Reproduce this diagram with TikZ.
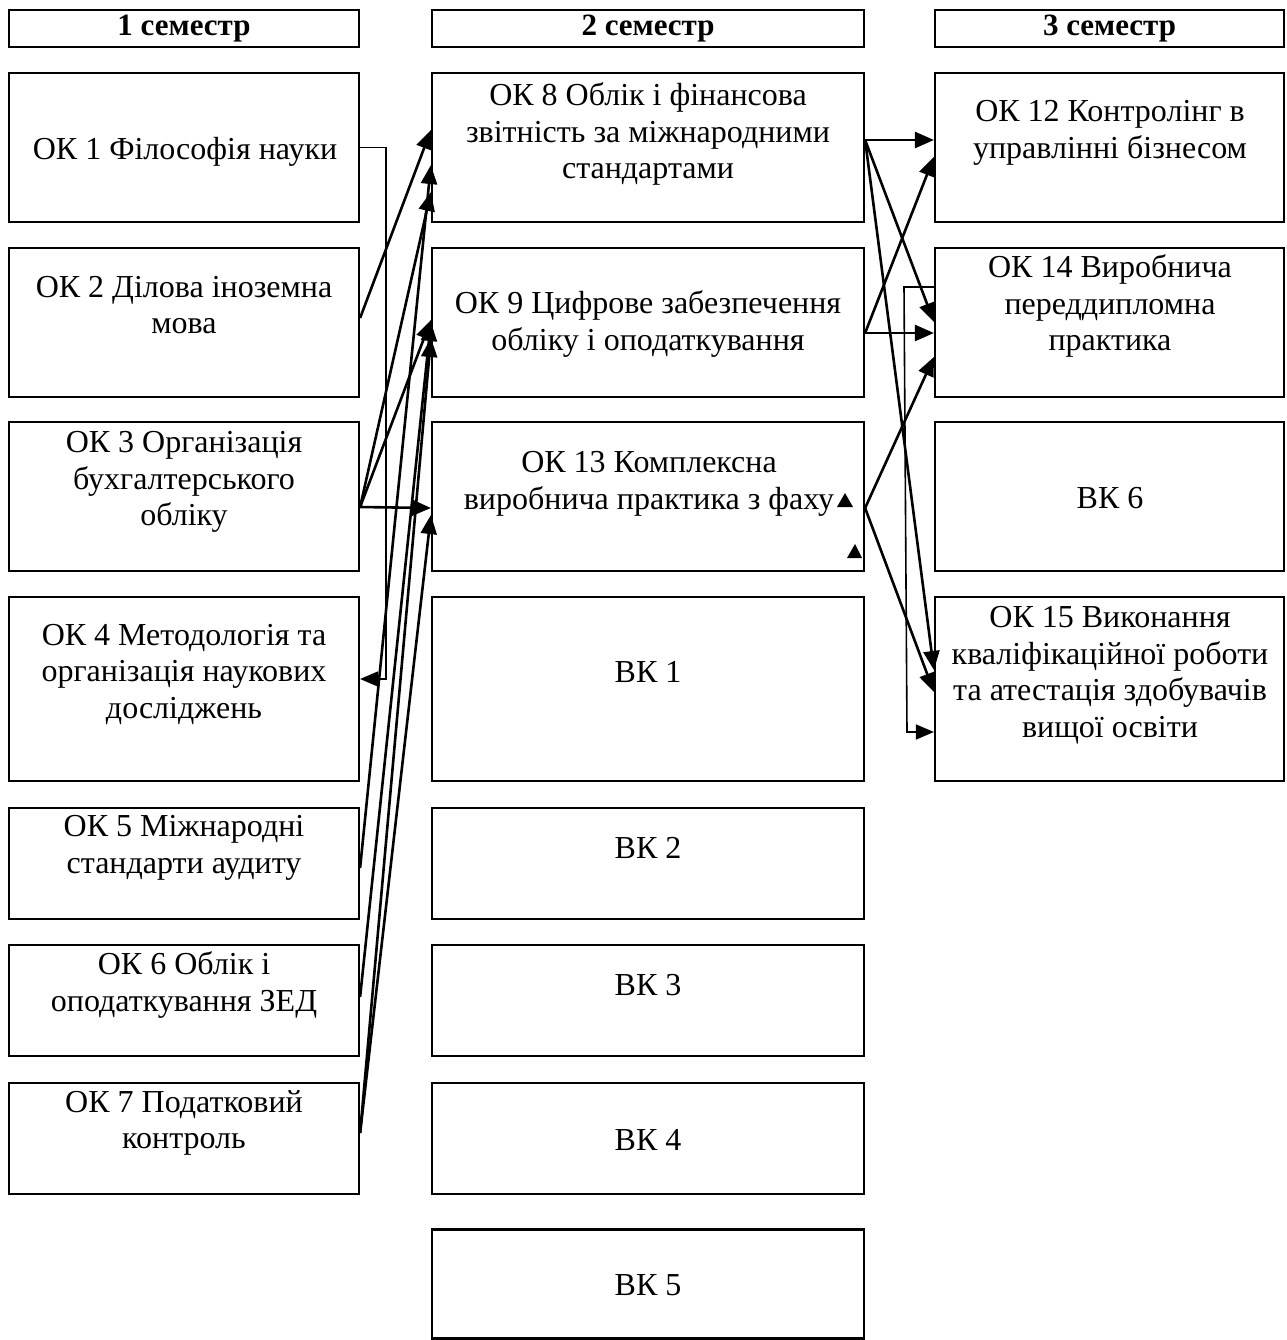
\documentclass[tikz,border=0pt]{standalone}
\usepackage{fontspec}
\setmainfont{Liberation Serif}
\usetikzlibrary{arrows.meta}
\begin{document}
\begin{tikzpicture}[x=1pt,y=-1pt,
  box/.style={draw,line width=2.2pt,rectangle,inner sep=0pt},
  hdr/.style={box,minimum height=37pt,font=\bfseries\fontsize{31}{36}\selectfont},
  lbl/.style={align=center,inner sep=0pt,font=\fontsize{32}{36.5}\selectfont},
  arr/.style={line width=2.6pt,-{Triangle[length=19pt,width=16pt]}},
  tarr/.style={line width=1.6pt,-{Triangle[length=18pt,width=15pt]}}]
\useasboundingbox (0,0) rectangle (1286,1340);
% headers
\node[hdr,minimum width=350pt] (h1) at (184,28.5) {1 семестр};
\node[hdr,minimum width=432pt] (h2) at (648,28.5) {2 семестр};
\node[hdr,minimum width=349pt] (h3) at (1109.5,28.5) {3 семестр};
% column 1
\node[box,minimum width=350pt,minimum height=149pt] (ok1) at (184,147.5) {};
\node[box,minimum width=350pt,minimum height=149pt] (ok2) at (184,322.5) {};
\node[box,minimum width=350pt,minimum height=149pt] (ok3) at (184,496.5) {};
\node[box,minimum width=350pt,minimum height=184pt] (ok4) at (184,689) {};
\node[box,minimum width=350pt,minimum height=111pt] (ok5) at (184,863.5) {};
\node[box,minimum width=350pt,minimum height=111pt] (ok6) at (184,1000.5) {};
\node[box,minimum width=350pt,minimum height=111pt] (ok7) at (184,1138.5) {};
% column 2
\node[box,minimum width=432pt,minimum height=149pt] (ok8) at (648,147.5) {};
\node[box,minimum width=432pt,minimum height=149pt] (ok9) at (648,322.5) {};
\node[box,minimum width=432pt,minimum height=149pt] (ok13) at (648,496.5) {};
\node[box,minimum width=432pt,minimum height=184pt] (vk1) at (648,689) {};
\node[box,minimum width=432pt,minimum height=111pt] (vk2) at (648,863.5) {};
\node[box,minimum width=432pt,minimum height=111pt] (vk3) at (648,1000.5) {};
\node[box,minimum width=432pt,minimum height=111pt] (vk4) at (648,1138.5) {};
\node[box,minimum width=432pt,minimum height=109pt] (vk5) at (648,1284) {};
% column 3
\node[box,minimum width=349pt,minimum height=149pt] (ok12) at (1109.5,147.5) {};
\node[box,minimum width=349pt,minimum height=149pt] (ok14) at (1109.5,322.5) {};
\node[box,minimum width=349pt,minimum height=149pt] (vk6) at (1109.5,496.5) {};
\node[box,minimum width=349pt,minimum height=184pt] (ok15) at (1109.5,689) {};
% texts
\node[lbl] (t1) at (185,152) {ОК 1 Філософія науки};
\node[lbl] (t2) at (184,305) {ОК 2 Ділова іноземна\\мова};
\node[lbl] (t3) at (184,482) {ОК 3 Організація\\бухгалтерського\\обліку};
\node[lbl] (t4) at (184,674) {ОК 4 Методологія та\\організація наукових\\досліджень};
\node[lbl] (t5) at (184,848) {ОК 5 Міжнародні\\стандарти аудиту};
\node[lbl] (t6) at (184,985) {ОК 6 Облік і\\оподаткування ЗЕД};
\node[lbl] (t7) at (184,1123) {ОК 7 Податковий\\контроль};
\node[lbl] (t8) at (648,134) {ОК 8 Облік і фінансова\\звітність за міжнародними\\стандартами};
\node[lbl] (t9) at (648,324) {ОК 9 Цифрове забезпечення\\обліку і оподаткування};
\node[lbl] (t13) at (649,484) {ОК 13 Комплексна\\виробнича практика з фаху};
\node[lbl] (tv1) at (648,672) {ВК 1};
\node[lbl] (tv2) at (648,848) {ВК 2};
\node[lbl] (tv3) at (648,985) {ВК 3};
\node[lbl] (tv4) at (648,1140) {ВК 4};
\node[lbl] (tv5) at (648,1285) {ВК 5};
\node[lbl] (t12) at (1110,133) {ОК 12 Контролінг в\\управлінні бізнесом};
\node[lbl] (t14) at (1110,306) {ОК 14 Виробнича\\переддипломна\\практика};
\node[lbl] (tv6) at (1110,498) {ВК 6};
\node[lbl] (t15) at (1110,675) {ОК 15 Виконання\\кваліфікаційної роботи\\та атестація здобувачів\\вищої освіти};
% column 1 -> column 2
\draw[tarr] (ok1.east) -- ++(26,0) |- (ok4.east |- 0,679);
\draw[arr] (ok2.east |- 0,318) -- (ok8.west |- 0,130);
\draw[arr] (ok3.east |- 0,507) -- (ok8.west |- 0,192);
\draw[arr] (ok3.east |- 0,507) -- (ok9.west |- 0,320);
\draw[arr] (ok3.east |- 0,507) -- (ok13.west |- 0,508);
\draw[arr] (ok5.east |- 0,868) -- (ok8.west |- 0,165);
\draw[arr] (ok6.east |- 0,997) -- (ok9.west |- 0,322);
\draw[arr] (ok7.east |- 0,1133) -- (ok9.west |- 0,338);
\draw[arr] (ok7.east |- 0,1133) -- (ok13.west |- 0,515);
% column 2 -> column 3
\draw[arr] (ok8.east |- 0,140) -- (ok12.west |- 0,140);
\draw[arr] (ok8.east |- 0,140) -- (ok14.west |- 0,322);
\draw[arr] (ok8.east |- 0,140) -- (ok15.west |- 0,670);
\draw[arr] (ok9.east |- 0,333) -- (ok14.west |- 0,333);
\draw[arr] (ok9.east |- 0,333) -- (ok12.west |- 0,157);
\draw[arr] (ok13.east |- 0,508) -- (ok14.west |- 0,357);
\draw[arr] (ok13.east |- 0,508) -- (ok15.west |- 0,692);
\draw[tarr] (ok14.west |- 0,287) -- (904,287) -- (907,732) -- (ok15.west |- 0,732);
% stray arrowheads inside OK 13
\fill (837,507) -- (845,493) -- (853,507) -- cycle;
\fill (847,558) -- (855,544) -- (862,558) -- cycle;
\end{tikzpicture}
\end{document}
